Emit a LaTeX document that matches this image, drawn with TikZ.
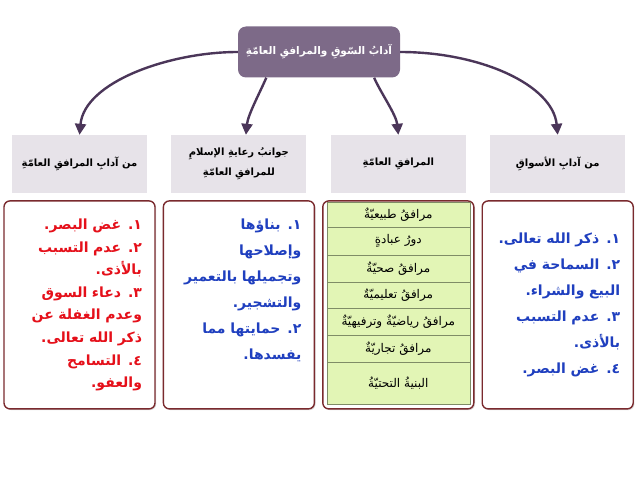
\documentclass[tikz,border=0pt]{standalone}
\usepackage{fontspec}
\newfontfamily\arabicfont[Script=Arabic]{DejaVu Sans}
\TeXXeTstate=1
\usetikzlibrary{positioning,arrows.meta,shadows}
\newcommand{\ar}[1]{\beginR#1\endR}
\definecolor{titlepurple}{HTML}{7D6A88}
\definecolor{arrowpurple}{HTML}{4B3659}
\definecolor{headgray}{HTML}{E7E3E9}
\definecolor{boxborder}{HTML}{7A2A2E}
\definecolor{itemred}{HTML}{E5101A}
\definecolor{itemblue}{HTML}{1F3FBF}
\definecolor{rowgreen}{HTML}{E2F5B5}
\definecolor{rowline}{HTML}{7F8C66}

\begin{document}
\begin{tikzpicture}[x=1pt, y=1pt, node distance=24pt]
  \tikzstyle{title} = [rectangle, rounded corners=8pt, fill=titlepurple,
  text=white, minimum width=162pt, minimum height=51pt, inner xsep=4pt,
  font=\arabicfont\bfseries\fontsize{10.5}{14}\selectfont]
  \tikzstyle{head} = [rectangle, fill=headgray, minimum width=135pt,
  minimum height=58pt, align=center,
  font=\arabicfont\bfseries\fontsize{10}{20}\selectfont]
  \tikzstyle{card} = [rectangle, rounded corners=6pt, draw=boxborder,
  line width=1.4pt, fill=white, minimum height=208pt, text width=125pt,
  inner xsep=13pt, align=right,
  drop shadow={shadow xshift=1.2pt, shadow yshift=-1.2pt, opacity=0.3},
  font=\arabicfont\bfseries\fontsize{14}{26}\selectfont]
  \tikzstyle{row} = [rectangle, draw=rowline, fill=rowgreen,
  minimum width=143pt, outer sep=0pt, inner sep=0pt,
  font=\arabicfont\fontsize{12}{14}\selectfont]
  \tikzstyle{link} = [-{Triangle[width=11pt, length=11pt]},
  draw=arrowpurple, line width=2.4pt]

  \useasboundingbox (0,0) rectangle (640,480);

  % Define nodes
  \node[title] (top) at (319,428) {\ar{آدابُ السّوقِ والمرافقِ العامّةِ}};

  \node[head] (h1) at (79.5,316) {\ar{من آدابِ المرافقِ العامّةِ}};
  \node[head, right=of h1] (h2) {\ar{جوانبُ رعايةِ الإسلامِ}\\\ar{للمرافقِ العامّةِ}};
  \node[head, right=of h2] (h3) {\ar{المرافقِ العامّةِ}};
  \node[head, right=of h3] (h4) {\ar{من آدابِ الأسواقِ}};

  \node[card, text=itemred, below=7pt of h1,
  font=\arabicfont\bfseries\fontsize{14}{22.6}\selectfont] (c1) {%
    \ar{١. غض البصر.}\\
    \ar{٢. عدم التسبب}\\
    \ar{بالأذى.}\\
    \ar{٣. دعاء السوق}\\
    \ar{وعدم الغفلة عن}\\
    \ar{ذكر الله تعالى.}\\
    \ar{٤. التسامح}\\
    \ar{والعفو.}};
  \node[card, text=itemblue, text depth=162pt, below=7pt of h2] (c2) {%
    \ar{١. بناؤها}\\
    \ar{وإصلاحها}\\
    \ar{وتجميلها بالتعمير}\\
    \ar{والتشجير.}\\
    \ar{٢. حمايتها مما}\\
    \ar{يفسدها.}};
  \node[card, below=7pt of h3] (c3) {};
  \node[card, text=itemblue, below=7pt of h4] (c4) {%
    \ar{١. ذكر الله تعالى.}\\
    \ar{٢. السماحة في}\\
    \ar{البيع والشراء.}\\
    \ar{٣. عدم التسبب}\\
    \ar{بالأذى.}\\
    \ar{٤. غض البصر.}};

  % table of facilities
  \node[row, minimum height=25pt, anchor=north] (r1) at ([yshift=-2pt]c3.north) {\ar{مرافقُ طبيعيّةٌ}};
  \node[row, minimum height=28pt, below=0pt of r1] (r2) {\ar{دورُ عبادةٍ}};
  \node[row, minimum height=27pt, below=0pt of r2] (r3) {\ar{مرافقُ صحيّةٌ}};
  \node[row, minimum height=26pt, below=0pt of r3] (r4) {\ar{مرافقُ تعليميّةٌ}};
  \node[row, minimum height=27pt, below=0pt of r4] (r5) {\ar{مرافقُ رياضيّةٌ وترفيهيّةٌ}};
  \node[row, minimum height=27pt, below=0pt of r5] (r6) {\ar{مرافقُ تجاريّةٌ}};
  \node[row, minimum height=42pt, below=0pt of r6] (r7) {\ar{البنيةُ التحتيّةُ}};

  \draw[link] (top.west) .. controls +(-68,0) and +(5,53) .. (h1.north);
  \draw[link] (top.206) .. controls +(-6,-14) and +(2,20) .. ([xshift=7pt]h2.north);
  \draw[link] (top.335) .. controls +(6,-14) and +(-2,20) .. (h3.north);
  \draw[link] (top.east) .. controls +(80,0) and +(-5,50) .. (h4.north);
\end{tikzpicture}
\end{document}
